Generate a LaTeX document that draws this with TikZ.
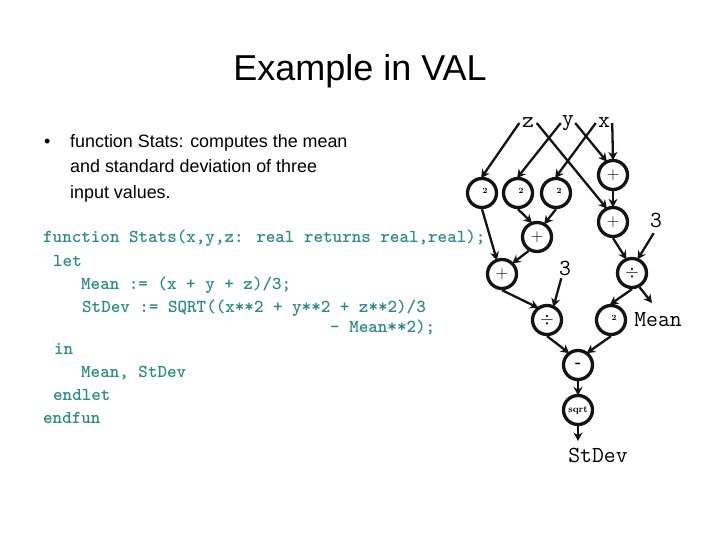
\documentclass[tikz,border=0pt]{standalone}
\usepackage{fontspec}
\setmainfont{Latin Modern Roman}
\newfontfamily\sansbody{Liberation Sans}
\usepackage{xcolor}
\usetikzlibrary{arrows.meta, positioning}
\definecolor{codeteal}{HTML}{2A8B87}
\definecolor{inkline}{HTML}{141414}
\newcommand{\smalltwo}{\hspace*{6pt}\raisebox{4pt}{2}}
\tikzset{
    opnode/.style={circle, draw=inkline, line width=3.3pt, minimum size=29pt, inner sep=0pt, font=\fontsize{16}{16}\selectfont},
    smallop/.style={opnode, font=\fontsize{8}{8}\selectfont\bfseries},
    wirelabel/.style={inner sep=0pt, minimum width=18pt, minimum height=14pt, font=\fontsize{23}{23}\selectfont\ttfamily},
    bodyline/.style={anchor=base west, inner sep=0pt, font=\fontsize{17.9}{17.9}\selectfont\sansbody},
    codeline/.style={anchor=base west, inner sep=0pt, text=codeteal, font=\fontsize{18.18}{18.18}\selectfont\ttfamily\bfseries},
    flow/.style={-{Stealth[length=8.5pt,width=9pt]}, line width=2.3pt, color=inkline, shorten >=-1.5pt}
}
\begin{document}
\begin{tikzpicture}[x=1pt, y=-1pt]
    \useasboundingbox [fill=white] (0,0) rectangle (720,540);
    % title and bullet
    \node [inner sep=0pt, font=\fontsize{36}{36}\selectfont\sansbody] (title) at (360,71) {Example in VAL};
    \node [bodyline] (bullet) at (44,148) {•};
    \node [bodyline] (descA) at (70,148) {function Stats: computes the mean};
    \node [bodyline] (descB) at (70,173) {and standard deviation of three};
    \node [bodyline] (descC) at (70,199) {input values.};
    % program text
    \node [codeline] (codeA) at (43,243) {function Stats(x,y,z: real returns real,real);};
    \node [codeline] (codeB) at (53,266) {let};
    \node [codeline] (codeC) at (81,289) {Mean := (x + y + z)/3;};
    \node [codeline] (codeD) at (82,312) {StDev := SQRT((x**2 + y**2 + z**2)/3};
    \node [codeline] (codeE) at (330,332) {- Mean**2);};
    \node [codeline] (codeF) at (54,354) {in};
    \node [codeline] (codeG) at (81,377) {Mean, StDev};
    \node [codeline] (codeH) at (53,400) {endlet};
    \node [codeline] (codeI) at (43,423) {endfun};
    % inputs and constants
    \node [wirelabel, minimum width=17pt] (inz) at (528,123) {z};
    \node [wirelabel, minimum width=14pt] (iny) at (568,123) {y};
    \node [wirelabel, minimum width=16pt] (inx) at (604,123) {x};
    \node [wirelabel, minimum height=26pt] (threeR) at (656,220) {3};
    \node [wirelabel, minimum height=20pt] (threeL) at (565,268) {3};
    % operators
    \node [smallop] (sqz) at (482,193) {\smalltwo};
    \node [smallop] (sqy) at (518,193) {\smalltwo};
    \node [smallop] (sqx) at (556,193) {\smalltwo};
    \node [opnode] (addxy) at (613,175) {$+$};
    \node [opnode] (addxyz) at (613,222) {$+$};
    \node [opnode] (addyz) at (537,237) {$+$};
    \node [opnode] (addall) at (502,274) {$+$};
    \node [opnode] (divmean) at (632,273) {$\div$};
    \node [opnode] (divsq) at (547,320) {$\div$};
    \node [smallop] (sqmean) at (611,320) {\smalltwo};
    \node [opnode] (diff) at (578,365) {\textbf{-}};
    \node [smallop, font=\fontsize{9.5}{9.5}\selectfont\bfseries] (sqrtop) at (578,410) {sqrt};
    % outputs
    \node [wirelabel, minimum width=0pt] (outmean) at (658,320) {Mean};
    \node [wirelabel, minimum width=0pt] (outdev) at (598,455) {StDev};
    \coordinate (meanend) at (652,303);
    \coordinate (devend) at (578,441);

    \draw [flow] (inz.west) -- (sqz.north);
    \draw [flow] (inz.east) -- (addxyz.116);
    \draw [flow] (iny.west) -- (sqy.north);
    \draw [flow] (iny.east) -- (addxy.116);
    \draw [flow] (inx.west) -- (sqx.north);
    \draw [flow] (inx.east) -- (addxy.north);
    \draw [flow] (addxy.south) -- (addxyz.north);
    \draw [flow] (sqz.south) -- (addall.110);
    \draw [flow] (sqy.south) -- (addyz.112);
    \draw [flow] (sqx.south) -- (addyz.60);
    \draw [flow] (addyz.239) -- (addall.45);
    \draw [flow] (addxyz.south) -- (divmean.113);
    \draw [flow] (threeR.260) -- (divmean.67);
    \draw [flow] (addall.south) -- (divsq.128);
    \draw [flow] (threeL.250) -- (divsq.65);
    \draw [flow] (divmean.south) -- (sqmean.north);
    \draw [flow, shorten >=0pt] (divmean.298) -- (meanend);
    \draw [flow] (divsq.south) -- (diff.128);
    \draw [flow] (sqmean.south) -- (diff.52);
    \draw [flow] (diff.south) -- (sqrtop.north);
    \draw [flow, shorten >=0pt] (sqrtop.south) -- (devend);
\end{tikzpicture}
\end{document}
